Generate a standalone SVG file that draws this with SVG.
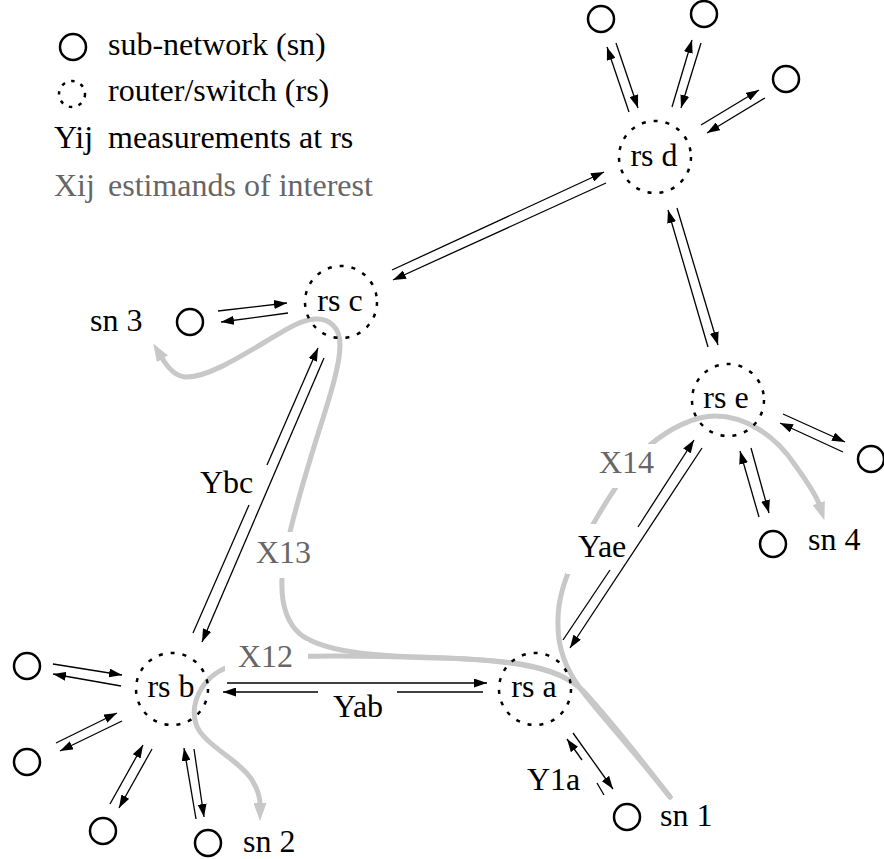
<svg xmlns="http://www.w3.org/2000/svg" width="884" height="859" viewBox="0 0 884 859">
<style>
.g{fill:#666}
.c{text-anchor:middle}
.sn{fill:none;stroke:#000;stroke-width:2.5}
.rs{fill:none;stroke:#000;stroke-width:2.5;stroke-dasharray:4 8}
.rsl{fill:none;stroke:#000;stroke-width:2.5;stroke-dasharray:3.5 6.5}
.ln{fill:none;stroke:#000;stroke-width:1.3}
.a{marker-end:url(#ah)}
.est{fill:none;stroke:#c8c8c8;stroke-width:5;stroke-linecap:round;marker-end:url(#gh)}
.bg{fill:#fff}
</style>
<defs>
<marker id="ah" viewBox="0 0 13 9" refX="13" refY="4.5" markerWidth="13" markerHeight="9" markerUnits="userSpaceOnUse" orient="auto">
<path d="M0,0 L13,4.5 L0,9 Z" fill="#000"/>
</marker>
<marker id="gh" viewBox="0 0 18 13" refX="1" refY="6.5" markerWidth="18" markerHeight="13" markerUnits="userSpaceOnUse" orient="auto">
<path d="M0,0 L18,6.5 L0,13 Z" fill="#c8c8c8"/>
</marker>
</defs>
<rect width="884" height="859" fill="#fff"/>
<g font-family="Liberation Serif, serif" font-size="32" fill="#000">

<g id="legend">
<circle class="sn" cx="73" cy="47" r="13"/>
<text x="108" y="55">sub-network (sn)</text>
<circle class="rsl" cx="72" cy="94" r="13"/>
<text x="108" y="101">router/switch (rs)</text>
<text x="54" y="148">Yij</text>
<text x="108" y="148">measurements at rs</text>
<text class="g" x="54" y="196">Xij</text>
<text class="g" x="108" y="196">estimands of interest</text>
</g>

<g id="estimands">
<path id="X12" class="est" d="M670,797 C640,760 612,724 586,694 C562,667 520,660 440,658 C360,656 270,652 228,667 C200,678 190,705 196,724 C203,745 240,760 252,780 C258,790 260,798 260,804"/>
<path id="X13" class="est" d="M670,797 C640,758 612,722 584,692 C560,665 500,659 420,657 C370,656 320,650 300,634 C285,621 281,600 282,578 C284,550 295,510 310,460 C325,410 340,370 340,345 C340,328 330,318 315,319 C300,320 285,330 265,342 C235,360 205,378 185,377 C175,376 168,368 162,358"/>
<path id="X14" class="est" d="M670,797 C640,758 600,715 580,688 C565,668 558,645 558,625 C557,600 565,575 580,548 C600,510 625,470 650,445 C670,428 695,416 715,416 C745,416 775,435 795,465 C808,483 816,495 819,504"/>
<rect class="bg" x="225" y="641" width="83" height="35"/>
<rect class="bg" x="252" y="532" width="60" height="46"/>
<rect class="bg" x="595" y="444" width="62" height="44"/>
<rect class="bg" x="566" y="524" width="36" height="50"/>
</g>

<g id="connectors">
<line class="ln a" x1="629" y1="112" x2="607" y2="47"/>
<line class="ln a" x1="616" y1="43" x2="638" y2="108"/>
<line class="ln a" x1="672" y1="107" x2="692" y2="40"/>
<line class="ln a" x1="701" y1="43" x2="681" y2="108"/>
<line class="ln a" x1="701" y1="125" x2="759" y2="90"/>
<line class="ln a" x1="765" y1="98" x2="707" y2="133"/>
<line class="ln a" x1="392" y1="270" x2="604" y2="172"/>
<line class="ln a" x1="606" y1="183" x2="393" y2="280"/>
<line class="ln a" x1="218" y1="311" x2="287" y2="303"/>
<line class="ln a" x1="288" y1="313" x2="221" y2="322"/>
<line class="ln a" x1="708" y1="347" x2="668" y2="210"/>
<line class="ln a" x1="677" y1="208" x2="718" y2="345"/>
<line class="ln a" x1="783" y1="414" x2="845" y2="442"/>
<line class="ln a" x1="843" y1="452" x2="780" y2="423"/>
<line class="ln a" x1="759" y1="517" x2="740" y2="451"/>
<line class="ln a" x1="751" y1="448" x2="769" y2="513"/>
<line class="ln" x1="563" y1="640" x2="610" y2="570"/>
<line class="ln a" x1="638" y1="527" x2="694" y2="440"/>
<line class="ln a" x1="702" y1="448" x2="570" y2="648"/>
<line class="ln" x1="193" y1="633" x2="249" y2="505"/>
<line class="ln a" x1="267" y1="465" x2="318" y2="348"/>
<line class="ln a" x1="324" y1="358" x2="202" y2="642"/>
<line class="ln a" x1="227" y1="683" x2="487" y2="683"/>
<line class="ln" x1="483" y1="692" x2="397" y2="692"/>
<line class="ln a" x1="318" y1="692" x2="223" y2="692"/>
<line class="ln" x1="604" y1="795" x2="597" y2="783"/>
<line class="ln a" x1="582" y1="760" x2="567" y2="739"/>
<line class="ln a" x1="573" y1="733" x2="613" y2="789"/>
<line class="ln a" x1="53" y1="664" x2="122" y2="675"/>
<line class="ln a" x1="121" y1="686" x2="53" y2="674"/>
<line class="ln a" x1="56" y1="743" x2="117" y2="713"/>
<line class="ln a" x1="122" y1="721" x2="60" y2="751"/>
<line class="ln a" x1="110" y1="804" x2="143" y2="745"/>
<line class="ln a" x1="152" y1="749" x2="119" y2="808"/>
<line class="ln a" x1="196" y1="819" x2="184" y2="748"/>
<line class="ln a" x1="194" y1="749" x2="204" y2="817"/>
</g>

<g id="rs-a"><circle class="rs" cx="535" cy="689" r="36"/><text class="c" x="534" y="697">rs a</text></g>
<g id="rs-b"><circle class="rs" cx="172" cy="689" r="36"/><text class="c" x="171" y="697">rs b</text></g>
<g id="rs-c"><circle class="rs" cx="341" cy="302" r="36"/><text class="c" x="340" y="311">rs c</text></g>
<g id="rs-d"><circle class="rs" cx="655" cy="157" r="36"/><text class="c" x="654" y="166">rs d</text></g>
<g id="rs-e"><circle class="rs" cx="728" cy="400" r="36"/><text class="c" x="726" y="408">rs e</text></g>

<g id="sn-1"><circle class="sn" cx="627" cy="817" r="13"/><text x="660" y="826">sn 1</text></g>
<g id="sn-2"><circle class="sn" cx="208" cy="843" r="13"/><text x="243" y="852">sn 2</text></g>
<g id="sn-3"><circle class="sn" cx="190" cy="322" r="13"/><text x="90" y="331">sn 3</text></g>
<g id="sn-4"><circle class="sn" cx="773" cy="544" r="13"/><text x="808" y="550">sn 4</text></g>
<g id="sn-d1"><circle class="sn" cx="601" cy="19" r="13"/></g>
<g id="sn-d2"><circle class="sn" cx="704" cy="14" r="13"/></g>
<g id="sn-d3"><circle class="sn" cx="786" cy="79" r="13"/></g>
<g id="sn-e1"><circle class="sn" cx="871" cy="459" r="13"/></g>
<g id="sn-b1"><circle class="sn" cx="27" cy="666" r="13"/></g>
<g id="sn-b2"><circle class="sn" cx="27" cy="762" r="13"/></g>
<g id="sn-b3"><circle class="sn" cx="103" cy="831" r="13"/></g>

<g id="labels">
<text x="200" y="493">Ybc</text>
<text x="578" y="557">Yae</text>
<text x="333" y="717">Yab</text>
<text x="527" y="790">Y1a</text>
<text class="g" x="238" y="667">X12</text>
<text class="g" x="256" y="563">X13</text>
<text class="g" x="599" y="473">X14</text>
</g>
</g>
</svg>
